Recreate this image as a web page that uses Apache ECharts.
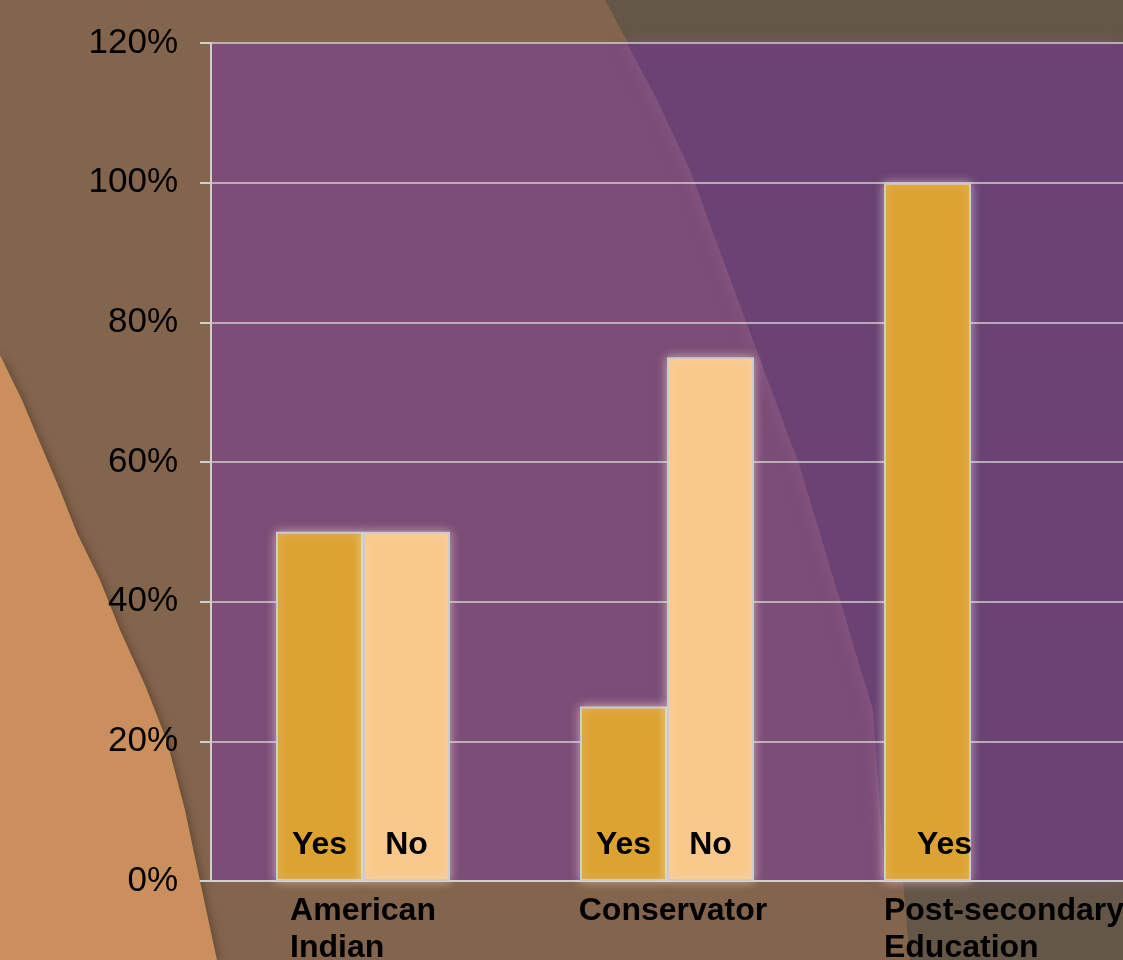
<!DOCTYPE html>
<html>
<head>
<meta charset="utf-8">
<script src="https://cdn.jsdelivr.net/npm/echarts@6/dist/echarts.min.js"></script>
<style>
  html, body { margin: 0; padding: 0; }
  #chart { width: 1123px; height: 960px; }
</style>
</head>
<body>
<div id="chart"></div>
<script>
// data
const categories = ["American\nIndian", "Conservator", "Post-secondary\nEducation"];
const yesValues = [50, 25, 100];
const noValues = [50, 75, null];
const seriesNames = ["Yes", "No"];

const chart = echarts.init(document.getElementById("chart"));

// plot area box, used for the background decoration only
const G = { left: 211, top: 43, right: 1123, bottom: 881 };

const option = {
  backgroundColor: "#83654d",
  textStyle: { fontFamily: "Liberation Sans, Arial, sans-serif" },
  animation: false,
  graphic: [
    // darker grey-brown region on the right
    {
      type: "polygon", z: -10, silent: true,
      shape: { points: [[605, 0], [1123, 0], [1123, 960], [910, 960], [903, 881], [840, 600], [628, 43]] },
      style: { fill: "#645748" }
    },
    // orange swoosh at the lower left
    {
      type: "polygon", z: -9, silent: true,
      shape: {
        points: [[0, 355], [22, 400], [43, 450], [60, 490], [77, 533], [100, 580], [120, 630],
                 [145, 685], [167, 741], [185, 810], [200, 881], [217, 960], [0, 960]]
      },
      style: { fill: "#cb8f5e", shadowBlur: 8, shadowColor: "rgba(70,45,25,0.55)", shadowOffsetX: 2 }
    },
    // plot area, lighter purple
    {
      type: "rect", z: -8, silent: true,
      shape: { x: G.left, y: G.top, width: G.right - G.left, height: G.bottom - G.top },
      style: { fill: "#7b4d77" }
    },
    // plot area, darker purple to the right of the curve
    {
      type: "polygon", z: -7, silent: true,
      shape: {
        points: [[627, G.top], [G.right, G.top], [G.right, G.bottom], [885, G.bottom],
                 [873, 710], [840, 600], [800, 467], [738, 300], [690, 170], [657, 100]]
      },
      style: { fill: "#6a4273", shadowBlur: 14, shadowColor: "rgba(140,90,135,0.6)", shadowOffsetX: -4 }
    }
  ],
  grid: {
    left: G.left, top: G.top, right: 0, bottom: 960 - G.bottom,
    containLabel: false,
    outerBoundsMode: "none"
  },
  xAxis: {
    type: "category",
    data: categories,
    axisLine: { lineStyle: { color: "#cfcfcf", width: 2 } },
    axisTick: { show: false },
    axisLabel: {
      margin: 12,
      formatter: function (v, i) {
        const style = ["a", "b", "c"][i];
        return v.split("\n").map(s => "{" + style + "|" + s + "}").join("\n");
      },
      rich: {
        a: { fontSize: 32, fontWeight: "bold", color: "#000", align: "left", lineHeight: 37 },
        b: { fontSize: 32, fontWeight: "bold", color: "#000", align: "left", lineHeight: 37, padding: [0, 0, 0, 12] },
        c: { fontSize: 32, fontWeight: "bold", color: "#000", align: "left", lineHeight: 37, padding: [0, 0, 0, 66] }
      }
    }
  },
  yAxis: {
    type: "value",
    min: 0, max: 120, interval: 20,
    axisLine: { show: true, lineStyle: { color: "#cfcfcf", width: 2 } },
    axisTick: { show: true, length: 11, lineStyle: { color: "#cfcfcf", width: 2 } },
    axisLabel: { formatter: "{value}%", fontSize: 35, color: "#000", margin: 33 },
    splitLine: { lineStyle: { color: "#cfcfcf", width: 1.5 } }
  },
  series: [
    {
      name: seriesNames[0],
      type: "bar",
      data: yesValues.map((v, i) => i === 2
        ? { value: v, label: { offset: [17, 0] } }
        : v),
      barWidth: 87,
      barGap: "0%",
      itemStyle: {
        color: "#dca232",
        borderColor: "#cccccc", borderWidth: 2,
        shadowBlur: 10, shadowColor: "rgba(255,235,225,0.55)"
      },
      label: {
        show: true, position: "insideBottom", distance: 20,
        formatter: seriesNames[0],
        fontSize: 32, fontWeight: "bold", color: "#000"
      }
    },
    {
      name: seriesNames[1],
      type: "bar",
      data: noValues,
      barWidth: 87,
      barGap: "0%",
      itemStyle: {
        color: "#f9c98b",
        borderColor: "#cccccc", borderWidth: 2,
        shadowBlur: 10, shadowColor: "rgba(255,235,225,0.55)"
      },
      label: {
        show: true, position: "insideBottom", distance: 20,
        formatter: seriesNames[1],
        fontSize: 32, fontWeight: "bold", color: "#000"
      }
    }
  ]
};

chart.setOption(option);
</script>
</body>
</html>
